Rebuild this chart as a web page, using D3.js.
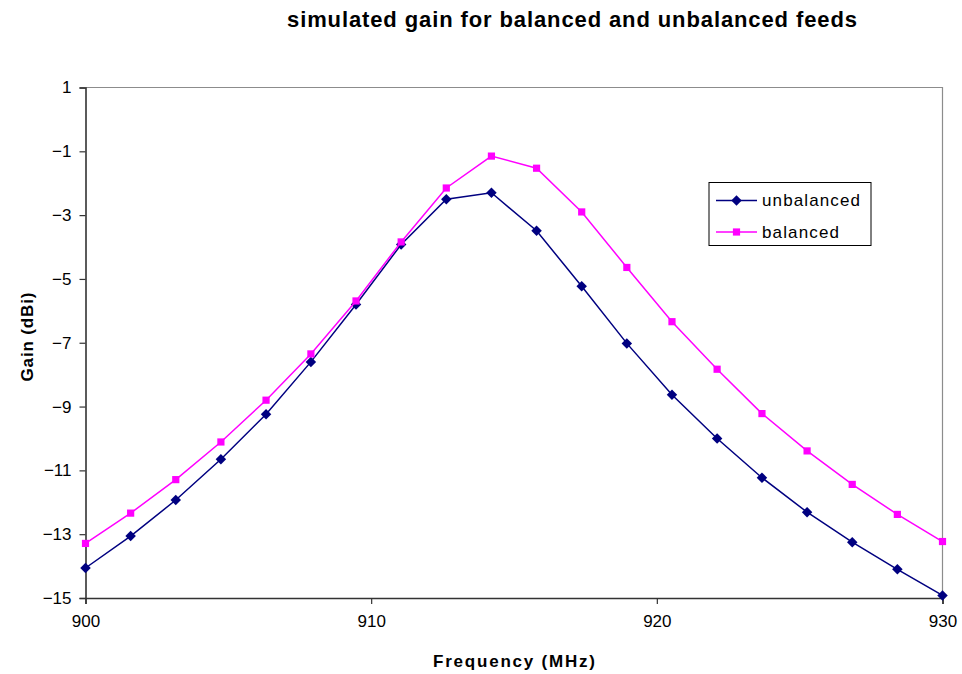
<!DOCTYPE html>
<html>
<head>
<meta charset="utf-8">
<script src="https://cdn.jsdelivr.net/npm/d3@7"></script>
<style>
  html, body { margin: 0; padding: 0; background: #fff; }
  svg { display: block; font-family: "Liberation Sans", Arial, sans-serif; }
</style>
</head>
<body>
<svg id="chart" width="962" height="674"></svg>
<script>
// Simulated antenna gain over frequency
const frequencies = [900, 901.58, 903.16, 904.74, 906.32, 907.89, 909.47, 911.05, 912.63, 914.21,
                     915.79, 917.37, 918.95, 920.53, 922.11, 923.68, 925.26, 926.84, 928.42, 930];
const unbalanced = [-14.06, -13.06, -11.93, -10.65, -9.24, -7.60, -5.80, -3.92, -2.50, -2.30,
                    -3.49, -5.23, -7.02, -8.63, -10.00, -11.23, -12.31, -13.25, -14.10, -14.92];
const balanced = [-13.29, -12.34, -11.29, -10.11, -8.80, -7.35, -5.69, -3.84, -2.15, -1.15,
                  -1.53, -2.90, -4.64, -6.34, -7.83, -9.22, -10.39, -11.44, -12.38, -13.23];
const xTicks = [900, 910, 920, 930];
const yTicks = [1, -1, -3, -5, -7, -9, -11, -13, -15];
const seriesNames = ["unbalanced", "balanced"];
const seriesColors = ["#000080", "#FF00FF"];

const svg = d3.select("#chart");
const plot = { left: 85.5, right: 942.5, top: 87.5, bottom: 598 };

const x = d3.scaleLinear().domain([900, 930]).range([plot.left, plot.right]);
const y = d3.scaleLinear().domain([-15, 1]).range([plot.bottom, plot.top]);

// Plot-area frame (top and right edges)
svg.append("path")
  .attr("d", `M${plot.left},${plot.top}H${plot.right}V${plot.bottom}`)
  .attr("fill", "none").attr("stroke", "#8c8c8c").attr("stroke-width", 1.2);

// Axes
const xAxis = svg.append("g")
  .attr("transform", `translate(0,${plot.bottom})`)
  .call(d3.axisBottom(x).tickValues(xTicks).tickFormat(d3.format("d")).tickSize(6).tickPadding(8));
const yAxis = svg.append("g")
  .attr("transform", `translate(${plot.left},0)`)
  .call(d3.axisLeft(y).tickValues(yTicks).tickFormat(d3.format("d")).tickSize(6).tickPadding(8));

[xAxis, yAxis].forEach(g => {
  g.select(".domain").attr("stroke", "#333").attr("stroke-width", 1.6);
  g.selectAll(".tick line").attr("stroke", "#333").attr("stroke-width", 1.2);
  g.selectAll(".tick text").attr("fill", "#000")
    .style("font-size", "17px").style("font-family", "'Liberation Sans', Arial, sans-serif");
});
xAxis.selectAll(".tick text").attr("dy", "0.9em");

// Titles (spaced out a little, as in the original rendering)
svg.append("text").attr("x", 572).attr("y", 27).attr("text-anchor", "middle")
  .style("font-size", "22px").style("font-weight", "bold")
  .attr("textLength", 570).attr("lengthAdjust", "spacing")
  .text("simulated gain for balanced and unbalanced feeds");
svg.append("text").attr("x", 514).attr("y", 667).attr("text-anchor", "middle")
  .style("font-size", "17px").style("font-weight", "bold")
  .attr("textLength", 162).attr("lengthAdjust", "spacing")
  .text("Frequency (MHz)");
svg.append("text").attr("transform", "translate(33,337) rotate(-90)").attr("text-anchor", "middle")
  .style("font-size", "17px").style("font-weight", "bold")
  .attr("textLength", 89).attr("lengthAdjust", "spacing")
  .text("Gain (dBi)");

// Series lines and markers
const line = d3.line().x((d, i) => x(frequencies[i])).y(d => y(d));
const diamond = d3.symbol().type(d3.symbolDiamond2).size(70);
const square = d3.symbol().type(d3.symbolSquare2).size(66);
const markers = [diamond, square];

[unbalanced, balanced].forEach((vals, s) => {
  svg.append("path").datum(vals)
    .attr("d", line).attr("fill", "none")
    .attr("stroke", seriesColors[s]).attr("stroke-width", 1.5);
  svg.append("g").selectAll("path").data(vals).join("path")
    .attr("transform", (d, i) => `translate(${x(frequencies[i])},${y(d)})`)
    .attr("d", markers[s]).attr("fill", seriesColors[s]);
});

// Legend
const legendTextWidths = [98, 77];
const legend = svg.append("g");
legend.append("rect").attr("x", 709).attr("y", 182.5).attr("width", 162).attr("height", 63)
  .attr("fill", "#fff").attr("stroke", "#000").attr("stroke-width", 1);
seriesNames.forEach((name, s) => {
  const ly = 200.5 + s * 31.5;
  legend.append("line").attr("x1", 716).attr("x2", 757).attr("y1", ly).attr("y2", ly)
    .attr("stroke", seriesColors[s]).attr("stroke-width", 1.5);
  legend.append("path").attr("transform", `translate(736.5,${ly})`)
    .attr("d", markers[s]).attr("fill", seriesColors[s]);
  legend.append("text").attr("x", 762).attr("y", ly).attr("dy", "0.35em")
    .style("font-size", "17px")
    .attr("textLength", legendTextWidths[s]).attr("lengthAdjust", "spacing")
    .text(name);
});
</script>
</body>
</html>
